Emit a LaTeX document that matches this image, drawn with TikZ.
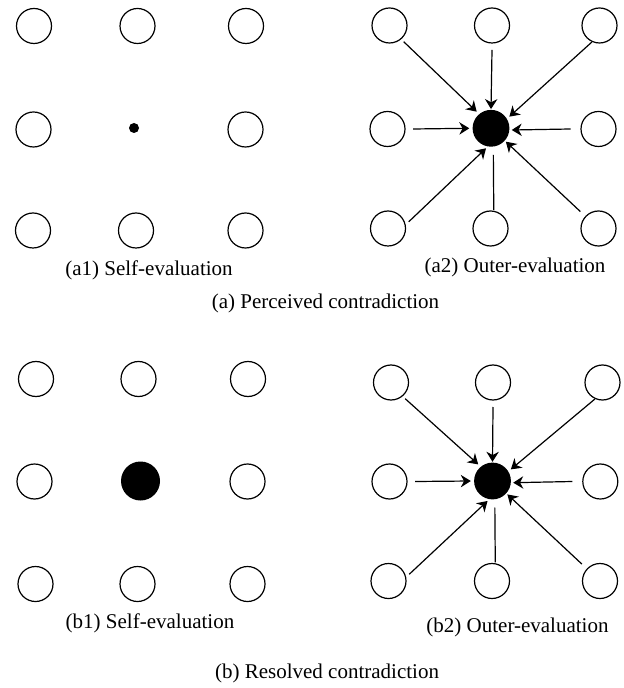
\documentclass[tikz,border=0pt]{standalone}
\usepackage{fontspec}
\setmainfont{Liberation Serif}
\usetikzlibrary{arrows.meta}
\begin{document}
\begin{tikzpicture}[x=0.5pt,y=-0.5pt,
  ring/.style={circle,draw,line width=0.6pt,minimum size=17.5pt,inner sep=0pt,outer sep=0pt},
  hub/.style={circle,fill=black,draw=none,inner sep=0pt,outer sep=0pt,minimum size=18.4pt},
  bighub/.style={circle,fill=black,draw=none,inner sep=0pt,outer sep=0pt,minimum size=19.5pt},
  speck/.style={circle,fill=black,draw=none,inner sep=0pt,outer sep=0pt,minimum size=5pt},
  arr/.style={line width=0.6pt,-{Stealth[length=5pt,width=6.2pt,inset=1.6pt]}},
  lnk/.style={line width=0.6pt},
  lbl/.style={font=\fontsize{10.5pt}{12pt}\selectfont,inner sep=0pt,outer sep=0pt}]
\useasboundingbox (0,0) rectangle (624,688);

% ---------- panel a1 ----------
\node[ring] (a1tl) at (34,26) {};
\node[ring] (a1tc) at (137.5,26) {};
\node[ring] (a1tr) at (246,26) {};
\node[ring] (a1ml) at (33.5,129.5) {};
\node[speck] (a1c) at (134,128) {};
\node[ring] (a1mr) at (245.5,129.5) {};
\node[ring] (a1bl) at (33,230.5) {};
\node[ring] (a1bc) at (136,230.5) {};
\node[ring] (a1br) at (245.5,230.5) {};
\node[lbl] (a1t) at (149,270) {(a1) Self-evaluation};

% ---------- panel a2 ----------
\node[ring] (a2tl) at (389.5,25.5) {};
\node[ring] (a2tc) at (492,25.5) {};
\node[ring] (a2tr) at (599.5,25.5) {};
\node[ring] (a2ml) at (387.5,129) {};
\node[hub]  (a2c)  at (491,128.3) {};
\node[ring] (a2mr) at (598.5,129) {};
\node[ring] (a2bl) at (388,228.5) {};
\node[ring] (a2bc) at (490.5,228.5) {};
\node[ring] (a2br) at (598.5,228.5) {};
\node[lbl] (a2t) at (515,267.5) {(a2) Outer-evaluation};

\draw[arr] ([shift={(-48.8:10.75pt)}]a2tl.center) -- ([shift={(130.7:10.95pt)}]a2c.center);
\draw[arr] ([shift={(-90:12.25pt)}]a2tc.center) -- ([shift={(90:9.6pt)}]a2c.center);
\draw[arr] ([shift={(245:9.2pt)}]a2tr.center) -- ([shift={(32.4:10.85pt)}]a2c.center);
\draw[arr] ([shift={(0:12.75pt)}]a2ml.center) -- ([shift={(180:10.85pt)}]a2c.center);
\draw[arr] ([shift={(180:14pt)}]a2mr.center) -- ([shift={(-4.7:10.4pt)}]a2c.center);
\draw[arr] ([shift={(18:10.9pt)}]a2bl.center) -- ([shift={(256:10.3pt)}]a2c.center);
\draw[lnk] ([shift={(80:9.4pt)}]a2bc.center) -- ([shift={(-85:13.4pt)}]a2c.center);
\draw[arr] ([shift={(137:12.4pt)}]a2br.center) -- ([shift={(318:10pt)}]a2c.center);

\node[lbl] (capa) at (325.5,303.3) {(a) Perceived contradiction};

% ---------- panel b1 ----------
\node[ring] (b1tl) at (36,379) {};
\node[ring] (b1tc) at (138.5,379) {};
\node[ring] (b1tr) at (248,379) {};
\node[ring] (b1ml) at (34.5,481.5) {};
\node[bighub] (b1c) at (140.5,481) {};
\node[ring] (b1mr) at (247.5,481.5) {};
\node[ring] (b1bl) at (35.5,584) {};
\node[ring] (b1bc) at (137.5,584) {};
\node[ring] (b1br) at (247.5,584) {};
\node[lbl] (b1t) at (150,623) {(b1) Self-evaluation};

% ---------- panel b2 ----------
\node[ring] (b2tl) at (391,382.5) {};
\node[ring] (b2tc) at (493,382.5) {};
\node[ring] (b2tr) at (602.5,382.5) {};
\node[ring] (b2ml) at (389.5,481.5) {};
\node[hub]  (b2c)  at (492.5,481) {};
\node[ring] (b2mr) at (600.3,481.5) {};
\node[ring] (b2bl) at (388.5,581) {};
\node[ring] (b2bc) at (492,581) {};
\node[ring] (b2br) at (600,581) {};
\node[lbl] (b2t) at (517.5,627) {(b2) Outer-evaluation};

\draw[arr] ([shift={(-48.8:10.75pt)}]b2tl.center) -- ([shift={(130.7:10.95pt)}]b2c.center);
\draw[arr] ([shift={(-90:12.25pt)}]b2tc.center) -- ([shift={(90:9.6pt)}]b2c.center);
\draw[arr] ([shift={(245:9.2pt)}]b2tr.center) -- ([shift={(32.4:10.85pt)}]b2c.center);
\draw[arr] ([shift={(0:12.75pt)}]b2ml.center) -- ([shift={(180:10.85pt)}]b2c.center);
\draw[arr] ([shift={(180:14pt)}]b2mr.center) -- ([shift={(-4.7:10.4pt)}]b2c.center);
\draw[arr] ([shift={(18:10.9pt)}]b2bl.center) -- ([shift={(256:10.3pt)}]b2c.center);
\draw[lnk] ([shift={(80:9.4pt)}]b2bc.center) -- ([shift={(-85:13.4pt)}]b2c.center);
\draw[arr] ([shift={(137:12.4pt)}]b2br.center) -- ([shift={(318:10pt)}]b2c.center);

\node[lbl] (capb) at (327,673.3) {(b) Resolved contradiction};
\end{tikzpicture}
\end{document}
